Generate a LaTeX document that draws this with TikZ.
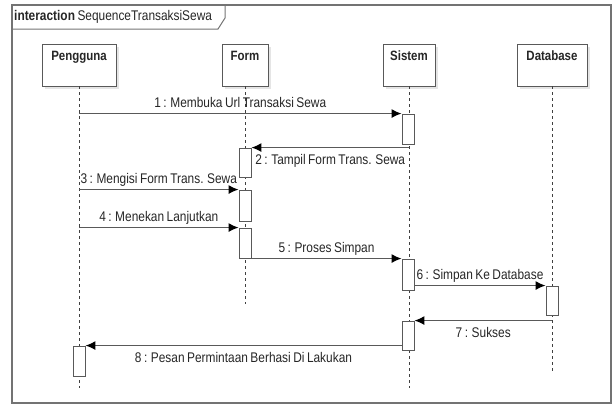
\documentclass[tikz,border=0pt]{standalone}
\usepackage{fontspec}
\setmainfont{Liberation Sans}[FakeStretch=0.85, WordSpace=0.75]
\usetikzlibrary{arrows.meta,shadows}

\begin{document}
\begin{tikzpicture}[x=1pt,y=-1pt,>={Latex[length=10pt,width=9pt,black]},
  every node/.style={font=\fontsize{14}{16}\selectfont, text=black!85},
  head/.style={draw=black!65, fill=white, line width=0.9pt, inner xsep=0pt, inner ysep=4pt,
    minimum height=42pt, text height=12pt, text depth=22pt,
    font=\fontsize{13.5}{16}\selectfont\bfseries,
    drop shadow={shadow xshift=3pt, shadow yshift=-3pt, fill=black!10, opacity=1}},
  act/.style={draw=black!65, fill=white, line width=0.9pt, minimum width=12pt, inner sep=0pt},
  life/.style={draw=black!75, line width=0.8pt, dash pattern=on 3pt off 3pt},
  msg/.style={draw=black!65, line width=1.3pt, ->},
  up/.style={midway, above=1pt, inner sep=1pt, text height=10pt, text depth=3pt},
  down/.style={midway, below=4pt, inner sep=1pt, text height=11pt, text depth=3pt}]

\useasboundingbox (0,0) rectangle (616,405);

% frame
\draw[black!55, line width=1.4pt] (12,5) rectangle (611,403);
\draw[black!55, line width=1pt] (12,29) -- (218,29) -- (225,18) -- (225,5);
\node[anchor=west, inner sep=1pt] (title) at (13,17) {\textbf{interaction} SequenceTransaksiSewa};

% lifelines
\node[head, minimum width=74pt] (pengguna) at (79,65)  {Pengguna};
\node[head, minimum width=46pt] (form)     at (245,65) {Form};
\node[head, minimum width=52pt] (sistem)   at (409,65) {Sistem};
\node[head, minimum width=70pt] (database) at (552,65) {Database};

\coordinate (pengguna end) at (79,388);
\coordinate (form end)     at (245,304);
\coordinate (sistem end)   at (409,388);
\coordinate (database end) at (552,374);

\draw[life] (pengguna.south) -- (pengguna end);
\draw[life] (form.south)     -- (form end);
\draw[life] (sistem.south)   -- (sistem end);
\draw[life] (database.south) -- (database end);

% activations
\node[act, minimum height=30pt] (s1) at (408,129)   {};
\node[act, minimum height=29pt] (f1) at (245,162.5) {};
\node[act, minimum height=31pt] (f2) at (245,205.5) {};
\node[act, minimum height=30pt] (f3) at (245,243)   {};
\node[act, minimum height=31pt] (s2) at (408,274.5) {};
\node[act, minimum height=29pt] (d1) at (552,300.5) {};
\node[act, minimum height=29pt] (s3) at (408,335.5) {};
\node[act, minimum height=30pt] (p1) at (79,361)    {};

% messages
\draw[msg] (pengguna |- s1.north west) -- (s1.north west)
  node[up] {1 : Membuka Url Transaksi Sewa};
\draw[msg] (sistem |- f1.north east) -- (f1.north east)
  node[down] {2 : Tampil Form Trans. Sewa};
\draw[msg] (pengguna |- f2.north west) -- (f2.north west)
  node[up] {3 : Mengisi Form Trans. Sewa};
\draw[msg] (pengguna |- f3.north west) -- (f3.north west)
  node[up] {4 : Menekan Lanjutkan};
\draw[msg] (f3.east |- s2.north west) -- (s2.north west)
  node[up] {5 : Proses Simpan};
\draw[msg] (s2.east |- d1.north west) -- (d1.north west)
  node[up] {6 : Simpan Ke Database};
\draw[msg] (database |- s3.north east) -- (s3.north east)
  node[down] {7 : Sukses};
\draw[msg] (s3.west |- p1.north east) -- (p1.north east)
  node[down] {8 : Pesan Permintaan Berhasi Di Lakukan};

\end{tikzpicture}
\end{document}
